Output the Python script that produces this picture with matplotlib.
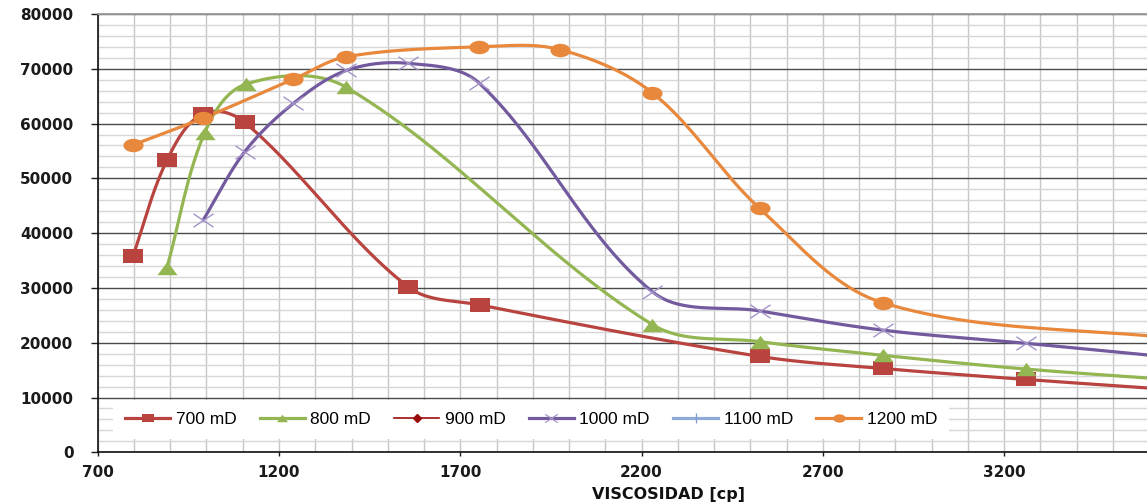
import numpy as np
import matplotlib
matplotlib.use("Agg")
import matplotlib.pyplot as plt
from matplotlib.path import Path
from matplotlib.lines import Line2D
from matplotlib.ticker import MultipleLocator

# ---- data -----------------------------------------------------------------
visc_700 = [797, 891, 991, 1106, 1556, 1754, 2526, 2865, 3259, 3715]
q_700 = [35800, 53300, 61800, 60200, 30200, 26900, 17500, 15300, 13300, 11200]

visc_800 = [891, 995, 1109, 1386, 2230, 2526, 2865, 3259, 3715]
q_800 = [33700, 58300, 67200, 66600, 23300, 20200, 17700, 15200, 13000]

visc_900 = []
q_900 = []

visc_1000 = [991, 1106, 1240, 1386, 1556, 1752, 2230, 2526, 2865, 3259, 3715]
q_1000 = [42400, 54900, 63700, 69700, 71000, 67400, 29300, 25800, 22300, 19900, 17000]

visc_1100 = []
q_1100 = []

visc_1200 = [797, 991, 1240, 1386, 1752, 1975, 2230, 2526, 2865, 3715]
q_1200 = [56100, 61000, 68100, 72200, 74000, 73500, 65600, 44500, 27300, 20500]

series_labels = ["700 mD", "800 mD", "900 mD", "1000 mD", "1100 mD", "1200 mD"]
x_ticks = [700, 1200, 1700, 2200, 2700, 3200]
x_tick_labels = ["700", "1200", "1700", "2200", "2700", "3200"]
y_ticks = [0, 10000, 20000, 30000, 40000, 50000, 60000, 70000, 80000]
y_tick_labels = ["0", "10000", "20000", "30000", "40000", "50000", "60000", "70000", "80000"]
x_label = "VISCOSIDAD [cp]"

# ---- marker shapes (horizontally stretched) --------------------------------
SX = 1.5
sq = Path([(-SX, -1), (SX, -1), (SX, 1), (-SX, 1), (-SX, -1)],
          [Path.MOVETO, Path.LINETO, Path.LINETO, Path.LINETO, Path.CLOSEPOLY])
tri = Path([(0, 1.0), (-SX, -1.0), (SX, -1.0), (0, 1.0)],
           [Path.MOVETO, Path.LINETO, Path.LINETO, Path.CLOSEPOLY])
circ = Path(Path.unit_circle().vertices * np.array([SX, 1.0]), Path.unit_circle().codes)
cross = Path([(-SX, -1), (SX, 1), (-SX, 1), (SX, -1)],
             [Path.MOVETO, Path.LINETO, Path.MOVETO, Path.LINETO])

RED = "#B8433F"
GREEN = "#93B652"
DARKRED = "#9A0A0A"
PURPLE = "#735A9E"
LBLUE = "#8EAAD8"
ORANGE = "#E8883C"

# ---- figure ---------------------------------------------------------------
W, H = 1147, 504
fig = plt.figure(figsize=(W / 100, H / 100), dpi=100)
fig.patch.set_facecolor("white")
ax = fig.add_axes([97.7 / W, (H - 452.3) / H, 1 - 97.7 / W, (452.3 - 14) / H])
ax.set_xlim(700, 3594)
ax.set_ylim(0, 80000)

ax.set_xticks(x_ticks, labels=x_tick_labels, fontweight="bold", fontsize=11)
ax.set_yticks(y_ticks, labels=y_tick_labels, fontweight="bold", fontsize=11)
ax.xaxis.set_minor_locator(MultipleLocator(100))
ax.yaxis.set_minor_locator(MultipleLocator(2000))
ax.tick_params(axis="x", which="major", direction="out", length=3, width=1, pad=6.5,
               colors="#1a1a1a")
ax.tick_params(axis="y", which="major", direction="out", length=5, width=1, pad=12.5,
               colors="#1a1a1a")
ax.tick_params(which="minor", length=0)

ax.grid(which="major", axis="y", color="#4a4a4a", lw=1.0, zorder=0)
ax.grid(which="minor", axis="y", color="#d6d6d6", lw=1.0, zorder=0)
ax.grid(which="both", axis="x", color="#c6c6c6", lw=1.0, zorder=0)
ax.set_axisbelow(True)

for side in ("left", "bottom"):
    ax.spines[side].set_color("#111111")
    ax.spines[side].set_linewidth(1.2)
ax.spines["top"].set_color("#9a9a9a")
ax.spines["top"].set_linewidth(1.3)
ax.spines["right"].set_visible(False)


def smooth(xs, ys, n=60):
    """Smoothed curve through the points: cubic Bezier segments built in display
    space, with tangent handles proportional to the adjacent segment lengths."""
    pts = ax.transData.transform(np.column_stack([xs, ys]))
    m = len(pts)
    tang = np.zeros_like(pts)
    for i in range(m):
        a = pts[max(i - 1, 0)]
        b = pts[min(i + 1, m - 1)]
        d = b - a
        nd = np.hypot(*d)
        tang[i] = d / nd if nd > 0 else 0.0
    t = np.linspace(0, 1, n)[:, None]
    segs = []
    for i in range(m - 1):
        p1, p2 = pts[i], pts[i + 1]
        L = np.hypot(*(p2 - p1))
        b1 = p1 + tang[i] * L / 3.0
        b2 = p2 - tang[i + 1] * L / 3.0
        seg = ((1 - t) ** 3) * p1 + 3 * ((1 - t) ** 2) * t * b1 \
            + 3 * (1 - t) * t ** 2 * b2 + t ** 3 * p2
        segs.append(seg if i == 0 else seg[1:])
    curve = ax.transData.inverted().transform(np.vstack(segs))
    return curve[:, 0], curve[:, 1]


def draw_series(xs, ys, color, marker, ms, mfc, mec, mew, lw=2.3, z=3):
    sx, sy = smooth(xs, ys)
    ax.plot(sx, sy, color=color, lw=lw, zorder=z, solid_capstyle="round")
    ax.plot(xs, ys, ls="none", marker=marker, ms=ms, mfc=mfc, mec=mec, mew=mew,
            zorder=z + 1)


draw_series(visc_700, q_700, RED, sq, 14.5, RED, RED, 0)
draw_series(visc_800, q_800, GREEN, tri, 14.5, GREEN, GREEN, 0)
draw_series(visc_1000, q_1000, PURPLE, cross, 14.5, "none", "#A493C8", 1.0)
draw_series(visc_1200, q_1200, ORANGE, circ, 14.5, ORANGE, ORANGE, 0)
ax.plot(visc_900, q_900, color=DARKRED)
ax.plot(visc_1100, q_1100, color=LBLUE)

# ---- legend ---------------------------------------------------------------
handles = [
    Line2D([], [], color=RED, lw=2.3, marker=sq, ms=8, mfc=RED, mec=RED, mew=0),
    Line2D([], [], color=GREEN, lw=2.3, marker=tri, ms=8, mfc=GREEN, mec=GREEN, mew=0),
    Line2D([], [], color=DARKRED, lw=1.2, marker="D", ms=4.5, mfc=DARKRED, mec=DARKRED),
    Line2D([], [], color=PURPLE, lw=2.3, marker=cross, ms=9, mfc="none", mec="#A493C8", mew=0.9),
    Line2D([], [], color=LBLUE, lw=2.3, marker="|", ms=7, mec="#7F9CCF", mew=0.9),
    Line2D([], [], color=ORANGE, lw=2.3, marker=circ, ms=9, mfc=ORANGE, mec=ORANGE, mew=0),
]
leg = ax.legend(handles, series_labels, ncol=6, loc="upper left",
                bbox_to_anchor=((113 - 97.7) / (W - 97.7), (452.3 - 400) / (452.3 - 14)),
                borderaxespad=0, frameon=True, fancybox=False,
                prop={"family": "Liberation Sans", "size": 12.5},
                handlelength=2.6, handletextpad=0.3, columnspacing=1.35,
                borderpad=0.7)
leg.get_frame().set_facecolor("white")
leg.get_frame().set_edgecolor("none")
leg.get_frame().set_alpha(1.0)
leg.set_zorder(10)

ax.set_xlabel(x_label, fontweight="bold", fontsize=11.5, color="#111111", va="top")
ax.xaxis.set_label_coords((668 - 97.7) / (W - 97.7), (452.3 - 487) / (452.3 - 14))

fig.savefig("out.png", dpi=100, facecolor="white")
